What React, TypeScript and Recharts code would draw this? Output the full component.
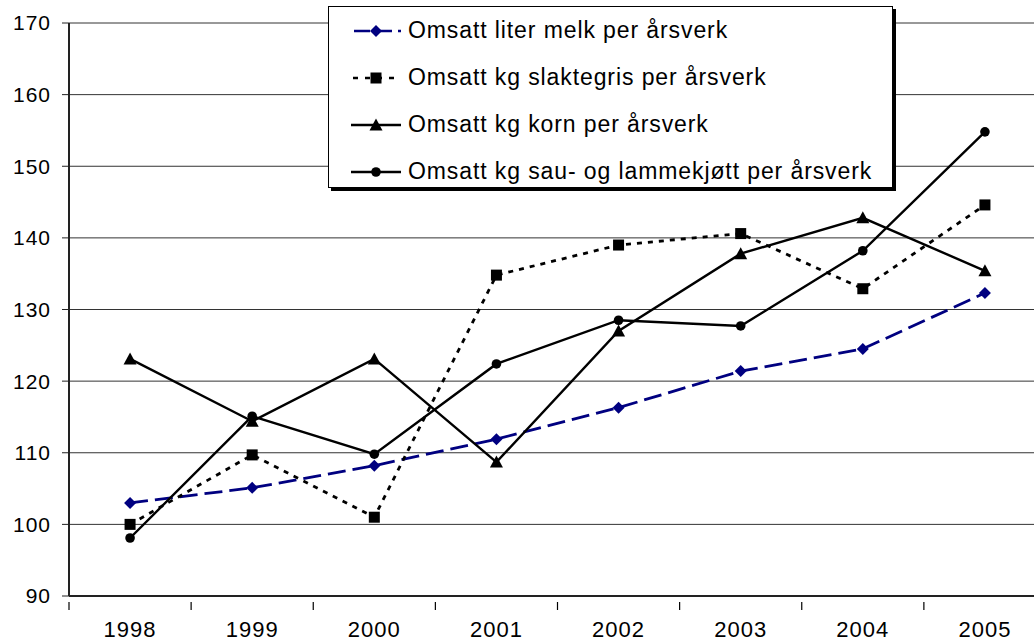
import { CartesianGrid, Line, LineChart, XAxis, YAxis } from "recharts";

const years = ["1998", "1999", "2000", "2001", "2002", "2003", "2004", "2005"];
const melk = [103.0, 105.1, 108.2, 111.9, 116.3, 121.4, 124.5, 132.3];
const slaktegris = [100.0, 109.7, 101.0, 134.8, 139.0, 140.6, 132.9, 144.6];
const korn = [123.1, 114.4, 123.1, 108.7, 127.0, 137.8, 142.8, 135.4];
const sau = [98.1, 115.1, 109.8, 122.4, 128.5, 127.7, 138.2, 154.8];
const yTicks = [90, 100, 110, 120, 130, 140, 150, 160, 170];

const labels = {
  melk: "Omsatt liter melk per årsverk",
  slaktegris: "Omsatt kg slaktegris per årsverk",
  korn: "Omsatt kg korn per årsverk",
  sau: "Omsatt kg sau- og lammekjøtt per årsverk",
};

const data = years.map((year, i) => ({
  year,
  melk: melk[i],
  slaktegris: slaktegris[i],
  korn: korn[i],
  sau: sau[i],
}));

const NAVY = "#000080";
const FONT = "'Liberation Sans', Arial, sans-serif";
const CHART_W = 1060;
const LEFT = 69;
const RIGHT_MARGIN = 14;
const BAND = (CHART_W - LEFT - RIGHT_MARGIN) / years.length;

const Diamond = ({ cx, cy }: any) =>
  cx == null ? null : (
    <path d={`M${cx},${cy - 6}L${cx + 6},${cy}L${cx},${cy + 6}L${cx - 6},${cy}Z`} fill={NAVY} />
  );
const Square = ({ cx, cy }: any) =>
  cx == null ? null : <rect x={cx - 5.5} y={cy - 5.5} width={11} height={11} fill="#000" />;
const Triangle = ({ cx, cy }: any) =>
  cx == null ? null : (
    <path d={`M${cx},${cy - 6.5}L${cx + 6.5},${cy + 5.5}L${cx - 6.5},${cy + 5.5}Z`} fill="#000" />
  );
const Circle = ({ cx, cy }: any) =>
  cx == null ? null : <circle cx={cx} cy={cy} r={4.8} fill="#000" />;

const XTick = ({ x, y, payload }: any) => (
  <g>
    <line x1={x - BAND / 2} x2={x - BAND / 2} y1={y - 2} y2={y + 6} stroke="#000" strokeWidth={1.2} />
    <text x={x} y={y + 33} textAnchor="middle" fontSize={22} letterSpacing={1} fontFamily={FONT} fill="#000">
      {payload.value}
    </text>
  </g>
);

const LegendRow = ({ kind, text }: { kind: string; text: string }) => {
  let sample;
  if (kind === "melk") {
    sample = (
      <>
        <line x1={0} x2={50} y1={7} y2={7} stroke={NAVY} strokeWidth={2.5} strokeDasharray="16 6" strokeDashoffset={-3} />
        <Diamond cx={25} cy={7} />
      </>
    );
  } else if (kind === "slaktegris") {
    sample = (
      <>
        <line x1={2} x2={48} y1={7} y2={7} stroke="#000" strokeWidth={2.5} strokeDasharray="5 7" />
        <Square cx={25} cy={7} />
      </>
    );
  } else if (kind === "korn") {
    sample = (
      <>
        <line x1={0} x2={50} y1={7} y2={7} stroke="#000" strokeWidth={2.4} />
        <Triangle cx={25} cy={7} />
      </>
    );
  } else {
    sample = (
      <>
        <line x1={0} x2={50} y1={7} y2={7} stroke="#000" strokeWidth={2.4} />
        <Circle cx={25} cy={7} />
      </>
    );
  }
  return (
    <div style={{ display: "flex", alignItems: "center", height: 47 }}>
      <svg width={50} height={14} style={{ marginRight: 7 }}>
        {sample}
      </svg>
      <span
        style={{
          fontSize: 23,
          letterSpacing: 0.9,
          fontFamily: FONT,
          color: "#000",
          whiteSpace: "nowrap",
        }}
      >
        {text}
      </span>
    </div>
  );
};

export default function App() {
  return (
    <div
      style={{
        position: "fixed",
        top: 0,
        left: 0,
        width: 1034,
        height: 641,
        overflow: "hidden",
        background: "#fff",
      }}
    >
      <LineChart
        width={CHART_W}
        height={641}
        data={data}
        margin={{ top: 23, right: RIGHT_MARGIN, left: 0, bottom: 0 }}
      >
        <CartesianGrid vertical={false} stroke="#333" strokeWidth={1} />
        <XAxis
          dataKey="year"
          scale="band"
          height={45}
          interval={0}
          tickLine={false}
          tick={<XTick />}
          axisLine={{ stroke: "#222", strokeWidth: 2 }}
        />
        <YAxis
          domain={[90, 170]}
          ticks={yTicks}
          width={LEFT}
          tickSize={7}
          tickMargin={11}
          interval={0}
          axisLine={{ stroke: "#222", strokeWidth: 2 }}
          tickLine={{ stroke: "#222" }}
          tick={{ fontSize: 21, fill: "#000", fontFamily: FONT, letterSpacing: 1 }}
        />
        <Line
          dataKey="melk"
          stroke={NAVY}
          strokeWidth={2.8}
          strokeDasharray="18 7"
          dot={<Diamond />}
          isAnimationActive={false}
        />
        <Line
          dataKey="slaktegris"
          stroke="#000"
          strokeWidth={2.8}
          strokeDasharray="5 6"
          dot={<Square />}
          isAnimationActive={false}
        />
        <Line dataKey="korn" stroke="#000" strokeWidth={2.4} dot={<Triangle />} isAnimationActive={false} />
        <Line dataKey="sau" stroke="#000" strokeWidth={2.4} dot={<Circle />} isAnimationActive={false} />
      </LineChart>
      <div
        style={{
          position: "absolute",
          left: 328,
          top: 6,
          width: 565,
          height: 182,
          border: "1.5px solid #000",
          boxShadow: "3px 3px 0 #000",
          background: "#fff",
          boxSizing: "border-box",
          padding: "0 0 0 22px",
        }}
      >
        <LegendRow kind="melk" text={labels.melk} />
        <LegendRow kind="slaktegris" text={labels.slaktegris} />
        <LegendRow kind="korn" text={labels.korn} />
        <LegendRow kind="sau" text={labels.sau} />
      </div>
    </div>
  );
}
